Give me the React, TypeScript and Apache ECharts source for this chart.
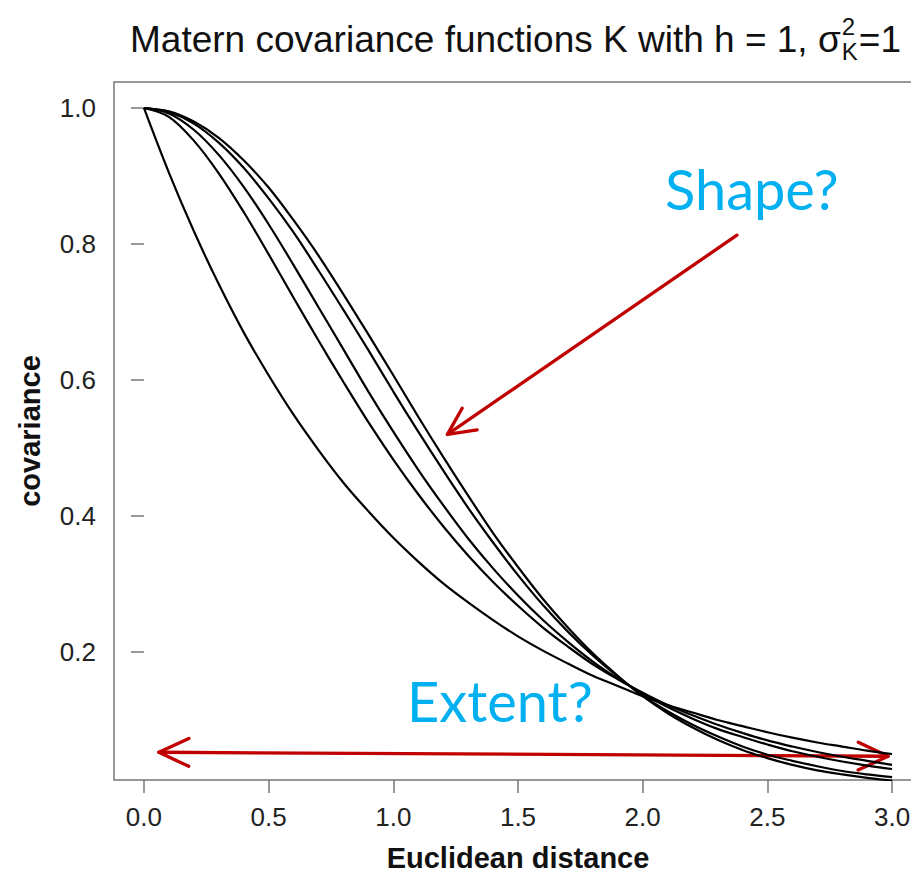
import React, { useEffect, useRef } from "react";
import * as echarts from "echarts";

// Euclidean distance grid (x)
const distances = [
  0.0, 0.1, 0.2, 0.3, 0.4, 0.5, 0.6, 0.7, 0.8, 0.9, 1.0, 1.1, 1.2, 1.3, 1.4, 1.5,
  1.6, 1.7, 1.8, 1.9, 2.0, 2.1, 2.2, 2.3, 2.4, 2.5, 2.6, 2.7, 2.8, 2.9, 3.0,
];

// Covariance curves
const covNu05 = [
  1.0, 0.905, 0.819, 0.741, 0.67, 0.607, 0.549, 0.497, 0.449, 0.407, 0.368, 0.333, 0.301, 0.273, 0.247, 0.223,
  0.202, 0.183, 0.165, 0.15, 0.135, 0.122, 0.111, 0.1, 0.091, 0.082, 0.074, 0.067, 0.061, 0.055, 0.05,
];
const covNu15 = [
  1.0, 0.987, 0.952, 0.904, 0.847, 0.785, 0.721, 0.658, 0.597, 0.538, 0.483, 0.432, 0.385, 0.342, 0.303, 0.268,
  0.236, 0.208, 0.182, 0.16, 0.14, 0.122, 0.107, 0.093, 0.081, 0.07, 0.061, 0.053, 0.046, 0.04, 0.034,
];
const covNu25 = [
  1.0, 0.992, 0.968, 0.931, 0.884, 0.829, 0.769, 0.707, 0.645, 0.583, 0.524, 0.468, 0.416, 0.367, 0.323, 0.283,
  0.247, 0.215, 0.186, 0.161, 0.139, 0.119, 0.102, 0.087, 0.075, 0.064, 0.054, 0.046, 0.039, 0.033, 0.028,
];
const covNuHigh = [
  1.0, 0.994, 0.977, 0.949, 0.912, 0.867, 0.817, 0.761, 0.703, 0.644, 0.583, 0.524, 0.467, 0.412, 0.361, 0.313,
  0.269, 0.23, 0.195, 0.164, 0.136, 0.113, 0.093, 0.076, 0.061, 0.049, 0.04, 0.032, 0.025, 0.02, 0.016,
];
const covGauss = [
  1.0, 0.995, 0.98, 0.956, 0.923, 0.883, 0.835, 0.783, 0.726, 0.667, 0.607, 0.546, 0.487, 0.43, 0.375, 0.325,
  0.278, 0.236, 0.198, 0.165, 0.135, 0.11, 0.089, 0.071, 0.056, 0.044, 0.034, 0.026, 0.02, 0.015, 0.011,
];

const xTicks = [0.0, 0.5, 1.0, 1.5, 2.0, 2.5, 3.0];
const yTicks = [0.2, 0.4, 0.6, 0.8, 1.0];

// Annotation anchors, in data coordinates
const shapeArrowStart = [2.378, 0.813];
const shapeArrowTip = [1.217, 0.52];
const extentArrowLeft = [0.06, 0.0526];
const extentArrowRight = [2.984, 0.0467];

const SANS = "'Liberation Sans', Arial, Helvetica, sans-serif";
const ANNOT = "Lato, 'Open Sans', sans-serif";
const RED = "#c00000";
const CYAN = "#00b0f0";
const GRAY = "#777777";

function measure(text: string, font: string): number {
  const c = document.createElement("canvas").getContext("2d")!;
  c.font = font;
  return c.measureText(text).width;
}

export default function App() {
  const ref = useRef<HTMLDivElement>(null);

  useEffect(() => {
    const chart = echarts.init(ref.current!, null, { renderer: "svg" });
    const pairs = (ys: number[]) => distances.map((d, i) => [d, ys[i]]);
    const curves = [covNu05, covNu15, covNu25, covNuHigh, covGauss];

    chart.setOption({
      animation: false,
      backgroundColor: "#ffffff",
      grid: {
        left: 114,
        top: 82,
        width: 808,
        height: 703,
        show: true,
        borderColor: GRAY,
        borderWidth: 1.5,
        backgroundColor: "transparent",
      },
      xAxis: {
        type: "value",
        min: -0.12,
        max: 3.12,
        splitLine: { show: false },
        axisLine: { show: false },
        axisTick: { show: true, length: 13, lineStyle: { color: GRAY, width: 1.5 }, customValues: xTicks },
        axisLabel: {
          customValues: xTicks,
          formatter: (v: number) => v.toFixed(1),
          fontFamily: SANS,
          fontSize: 26,
          color: "#222",
          margin: 24,
        },
        name: "Euclidean distance",
        nameLocation: "middle",
        nameGap: 63,
        nameTextStyle: { fontFamily: SANS, fontSize: 29, fontWeight: "bold", color: "#111" },
      },
      yAxis: {
        type: "value",
        min: 0.0118,
        max: 1.0382,
        splitLine: { show: false },
        axisLine: { show: false },
        axisTick: { show: true, length: 13, lineStyle: { color: GRAY, width: 1.5 }, customValues: yTicks },
        axisLabel: {
          customValues: yTicks,
          formatter: (v: number) => v.toFixed(1),
          fontFamily: SANS,
          fontSize: 26,
          color: "#222",
          margin: 18,
        },
        name: "covariance",
        nameLocation: "middle",
        nameGap: 70,
        nameTextStyle: { fontFamily: SANS, fontSize: 29, fontWeight: "bold", color: "#111" },
      },
      series: curves.map((ys) => ({
        type: "line",
        data: pairs(ys),
        smooth: 0.35,
        showSymbol: false,
        symbol: "none",
        lineStyle: { color: "#000", width: 2.2 },
        clip: true,
      })),
    });

    const px = (p: number[]) => chart.convertToPixel({ gridIndex: 0 }, p) as number[];

    const arrowHead = (tip: number[], from: number[], len: number, ang: number) => {
      const a = Math.atan2(from[1] - tip[1], from[0] - tip[0]);
      const r = (ang * Math.PI) / 180;
      return [
        [tip[0] + len * Math.cos(a + r), tip[1] + len * Math.sin(a + r)],
        tip,
        [tip[0] + len * Math.cos(a - r), tip[1] + len * Math.sin(a - r)],
      ];
    };

    const s1 = px(shapeArrowStart);
    const t1 = px(shapeArrowTip);
    const l2 = px(extentArrowLeft);
    const r2 = px(extentArrowRight);
    const arrowStyle = { stroke: RED, lineWidth: 3.3, fill: "none", lineCap: "round", lineJoin: "round" };

    // Title with stacked super/subscript
    const titleSize = 37;
    const titleFont = `${titleSize}px ${SANS}`;
    const titleMain = "Matern covariance functions K with h = 1, \u03c3";
    const titleX = 130;
    const titleY = 39;
    const mainW = measure(titleMain, titleFont);
    const scriptSize = 24;
    const scriptFont = `${scriptSize}px ${SANS}`;
    const scriptW = Math.max(measure("2", scriptFont), measure("K", scriptFont));

    chart.setOption({
      graphic: [
        {
          type: "text",
          x: titleX,
          y: titleY,
          style: { text: titleMain, font: titleFont, fill: "#111", verticalAlign: "middle", align: "left" },
        },
        {
          type: "text",
          x: titleX + mainW + 1,
          y: titleY - 13,
          style: { text: "2", font: scriptFont, fill: "#111", verticalAlign: "middle", align: "left" },
        },
        {
          type: "text",
          x: titleX + mainW + 1,
          y: titleY + 12,
          style: { text: "K", font: scriptFont, fill: "#111", verticalAlign: "middle", align: "left" },
        },
        {
          type: "text",
          x: titleX + mainW + scriptW + 2,
          y: titleY,
          style: { text: "=1", font: titleFont, fill: "#111", verticalAlign: "middle", align: "left" },
        },
        {
          type: "text",
          x: 665,
          y: 188,
          style: { text: "Shape?", font: `56px ${ANNOT}`, fill: CYAN, verticalAlign: "middle", align: "left" },
        },
        {
          type: "text",
          x: 407,
          y: 700,
          style: { text: "Extent?", font: `56px ${ANNOT}`, fill: CYAN, verticalAlign: "middle", align: "left" },
        },
        { type: "line", shape: { x1: s1[0], y1: s1[1], x2: t1[0], y2: t1[1] }, style: arrowStyle },
        { type: "polyline", shape: { points: arrowHead(t1, s1, 30, 26) }, style: arrowStyle },
        { type: "line", shape: { x1: l2[0], y1: l2[1], x2: r2[0], y2: r2[1] }, style: arrowStyle },
        { type: "polyline", shape: { points: arrowHead(l2, r2, 33, 25) }, style: arrowStyle },
        { type: "polyline", shape: { points: arrowHead(r2, l2, 33, 25) }, style: arrowStyle },
      ],
    });

    return () => chart.dispose();
  }, []);

  return (
    <div
      style={{
        position: "absolute",
        left: 0,
        top: 0,
        width: 911,
        height: 877,
        overflow: "hidden",
        background: "#fff",
      }}
    >
      <div ref={ref} style={{ width: 940, height: 877 }} />
    </div>
  );
}
